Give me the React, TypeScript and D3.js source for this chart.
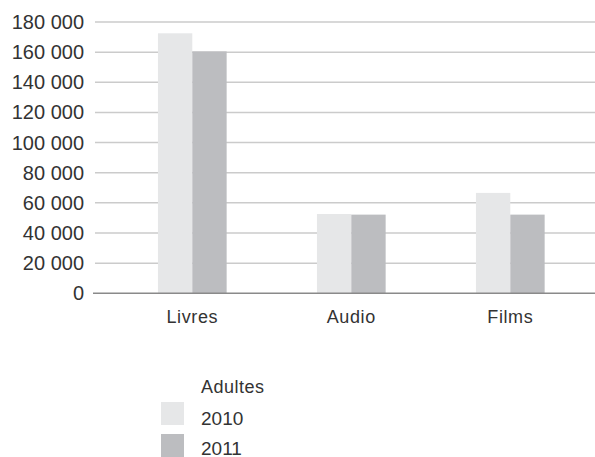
import { useEffect, useRef } from 'react';
import * as d3 from 'd3';

const categories = ['Livres', 'Audio', 'Films'];
const series = ['2010', '2011'];
const values2010 = [172500, 52600, 66600];
const values2011 = [160500, 52200, 52200];
const yTicks = [0, 20000, 40000, 60000, 80000, 100000, 120000, 140000, 160000, 180000];
const legendTitle = 'Adultes';
const colors = ['#e6e7e8', '#bcbdc0'];

const W = 595;
const H = 457;
const FONT = '"Liberation Sans", Arial, sans-serif';

export default function App() {
  const svgRef = useRef<SVGSVGElement>(null);

  useEffect(() => {
    const svg = d3.select(svgRef.current);
    svg.selectAll('*').remove();

    const y = d3.scaleLinear().domain([0, 180000]).range([293.3, 22]);
    const x = d3
      .scaleBand<string>()
      .domain(categories)
      .range([112.8, 589.8])
      .paddingInner(0.568)
      .paddingOuter(0.284);
    const xs = d3.scaleBand<string>().domain(series).range([0, x.bandwidth()]);

    const fmt = (d: number) => d3.format(',')(d).replace(/,/g, ' ');

    // gridlines
    svg
      .append('g')
      .selectAll('line')
      .data(yTicks.filter((d) => d > 0))
      .enter()
      .append('line')
      .attr('x1', 95)
      .attr('x2', W)
      .attr('y1', (d) => y(d))
      .attr('y2', (d) => y(d))
      .attr('stroke', '#cbcbcb')
      .attr('stroke-width', 1.5);

    svg
      .append('g')
      .selectAll('text')
      .data(yTicks)
      .enter()
      .append('text')
      .attr('x', 84)
      .attr('y', (d) => y(d))
      .attr('dy', '0.35em')
      .attr('text-anchor', 'end')
      .attr('font-family', FONT)
      .attr('font-size', 20)
      .attr('fill', '#333')
      .text((d) => fmt(d));

    const data = categories.map((c, i) => ({ c, v: [values2010[i], values2011[i]] }));

    const groups = svg
      .append('g')
      .selectAll('g')
      .data(data)
      .enter()
      .append('g')
      .attr('transform', (d) => `translate(${x(d.c)},0)`);

    groups
      .selectAll('rect')
      .data((d) => d.v.map((v, j) => ({ s: series[j], v, j })))
      .enter()
      .append('rect')
      .attr('x', (d) => xs(d.s)!)
      .attr('width', xs.bandwidth())
      .attr('y', (d) => y(d.v))
      .attr('height', (d) => y(0) - y(d.v))
      .attr('fill', (d) => colors[d.j]);

    // baseline
    svg
      .append('line')
      .attr('x1', 93)
      .attr('x2', W)
      .attr('y1', y(0))
      .attr('y2', y(0))
      .attr('stroke', '#8a8a8a')
      .attr('stroke-width', 1.5);

    svg
      .append('g')
      .selectAll('text')
      .data(categories)
      .enter()
      .append('text')
      .attr('x', (d) => x(d)! + x.bandwidth() / 2)
      .attr('y', 323)
      .attr('text-anchor', 'middle')
      .attr('font-family', FONT)
      .attr('font-size', 18)
      .attr('letter-spacing', 0.6)
      .attr('fill', '#333')
      .text((d) => d);

    // legend
    const lg = svg.append('g');
    lg.append('text')
      .attr('x', 201)
      .attr('y', 393)
      .attr('font-family', FONT)
      .attr('font-size', 18)
      .attr('letter-spacing', 0.5)
      .attr('fill', '#333')
      .text(legendTitle);

    series.forEach((s, i) => {
      lg.append('rect')
        .attr('x', 161)
        .attr('y', 402 + i * 32)
        .attr('width', 23)
        .attr('height', 23)
        .attr('fill', colors[i]);
      lg.append('text')
        .attr('x', 201)
        .attr('y', 425 + i * 29.5)
        .attr('font-family', FONT)
        .attr('font-size', 19)
        .attr('fill', '#333')
        .text(s);
    });
  }, []);

  return (
    <div style={{ position: 'absolute', left: 0, top: 0 }}>
      <svg ref={svgRef} width={W} height={H} style={{ display: 'block', background: '#fff' }} />
    </div>
  );
}
